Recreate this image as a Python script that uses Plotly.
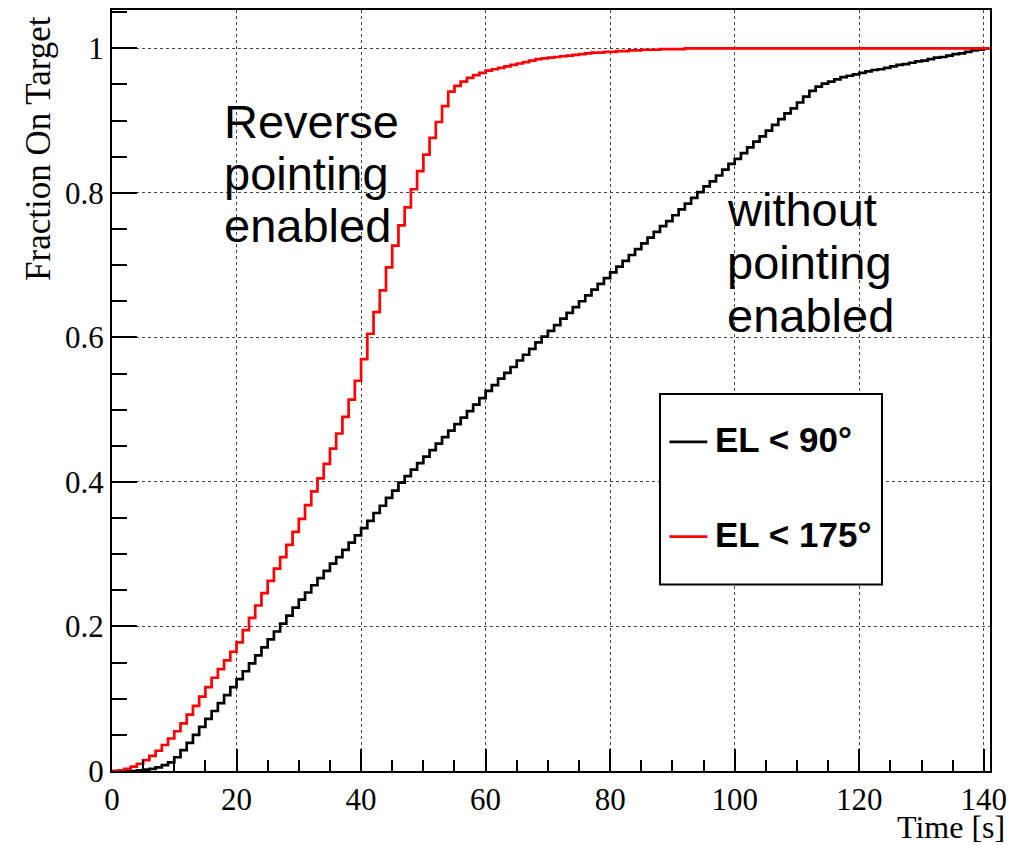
import plotly.graph_objects as go

# ---------------- data ----------------
bin_low_edges_s = list(range(0, 141))   # one-second time bins, 0 ... 140 s
bin_width_s = 1

frac_el90 = [
    0.000, 0.000, 0.000, 0.000, 0.001, 0.002, 0.003, 0.005, 0.008, 0.012,
    0.019, 0.029, 0.039, 0.050, 0.061, 0.072, 0.083, 0.094, 0.105, 0.116,
    0.127, 0.138, 0.149, 0.160, 0.171, 0.182, 0.193, 0.204, 0.215, 0.226,
    0.237, 0.247, 0.257, 0.267, 0.277, 0.287, 0.296, 0.306, 0.316, 0.326,
    0.336, 0.346, 0.357, 0.367, 0.378, 0.388, 0.399, 0.408, 0.417, 0.426,
    0.435, 0.444, 0.453, 0.462, 0.471, 0.480, 0.489, 0.498, 0.507, 0.516,
    0.526, 0.534, 0.543, 0.551, 0.559, 0.568, 0.576, 0.584, 0.593, 0.601,
    0.609, 0.617, 0.626, 0.634, 0.642, 0.650, 0.658, 0.666, 0.674, 0.682,
    0.690, 0.698, 0.706, 0.714, 0.722, 0.730, 0.738, 0.746, 0.754, 0.761,
    0.769, 0.777, 0.785, 0.793, 0.801, 0.809, 0.816, 0.824, 0.832, 0.840,
    0.847, 0.855, 0.863, 0.871, 0.878, 0.886, 0.894, 0.902, 0.910, 0.917,
    0.925, 0.933, 0.941, 0.947, 0.951, 0.954, 0.957, 0.960, 0.962, 0.964,
    0.966, 0.968, 0.970, 0.971, 0.973, 0.975, 0.977, 0.978, 0.980, 0.982,
    0.983, 0.985, 0.987, 0.988, 0.990, 0.992, 0.993, 0.995, 0.997, 0.998,
    1.000,
]

frac_el175 = [
    0.000, 0.001, 0.003, 0.006, 0.010, 0.015, 0.021, 0.028, 0.036, 0.045,
    0.055, 0.066, 0.078, 0.090, 0.103, 0.116, 0.129, 0.141, 0.153, 0.165,
    0.178, 0.195, 0.212, 0.229, 0.246, 0.263, 0.280, 0.296, 0.313, 0.331,
    0.349, 0.368, 0.387, 0.405, 0.425, 0.446, 0.467, 0.490, 0.514, 0.540,
    0.570, 0.605, 0.635, 0.665, 0.697, 0.727, 0.755, 0.780, 0.805, 0.830,
    0.853, 0.876, 0.898, 0.920, 0.940, 0.948, 0.954, 0.959, 0.963, 0.966,
    0.969, 0.971, 0.973, 0.975, 0.977, 0.979, 0.981, 0.983, 0.985, 0.986,
    0.987, 0.988, 0.989, 0.990, 0.991, 0.992, 0.993, 0.994, 0.994, 0.995,
    0.995, 0.996, 0.996, 0.997, 0.997, 0.998, 0.998, 0.998, 0.999, 0.999,
    0.999, 0.999, 1.000, 1.000, 1.000, 1.000, 1.000, 1.000, 1.000, 1.000,
    1.000, 1.000, 1.000, 1.000, 1.000, 1.000, 1.000, 1.000, 1.000, 1.000,
    1.000, 1.000, 1.000, 1.000, 1.000, 1.000, 1.000, 1.000, 1.000, 1.000,
    1.000, 1.000, 1.000, 1.000, 1.000, 1.000, 1.000, 1.000, 1.000, 1.000,
    1.000, 1.000, 1.000, 1.000, 1.000, 1.000, 1.000, 1.000, 1.000, 1.000,
    1.000,
]

series_names = ["EL < 90°", "EL < 175°"]
series_colors = ["#000000", "#ff0000"]

x_tick_vals = [0, 20, 40, 60, 80, 100, 120, 140]
y_tick_vals = [0, 0.2, 0.4, 0.6, 0.8, 1.0]
y_tick_text = ["0", "0.2", "0.4", "0.6", "0.8", "1"]

x_title = "Time [s]"
y_title = "Fraction On Target"
label_left = ["Reverse", "pointing", "enabled"]
label_right = ["without", "pointing", "enabled"]

# ---------------- figure geometry ----------------
W, H = 1015, 845
L, R, T, B = 112, 21, 8, 74
PW, PH = W - L - R, H - T - B
BOTTOM_PX = H - B


def px(xp):
    return (xp - L) / PW


def py(yp):
    return (BOTTOM_PX - yp) / PH


x_edges = bin_low_edges_s + [bin_low_edges_s[-1] + bin_width_s]

fig = go.Figure()
for vals, name, col in zip([frac_el90, frac_el175], series_names, series_colors):
    fig.add_trace(go.Scatter(
        x=x_edges, y=vals + [vals[-1]], mode="lines", name=name,
        line=dict(color=col, width=2.7, shape="hv"), showlegend=False,
        hoverinfo="skip",
    ))

serif = "Liberation Serif"
sans = "Liberation Sans"

axis_common = dict(
    ticks="inside", tickcolor="black", tickwidth=1.5,
    showline=True, linecolor="black", linewidth=2, mirror=True,
    showgrid=True, gridcolor="#444444", griddash="dot", gridwidth=1,
    zeroline=False, tickfont=dict(family=serif, size=31, color="black"),
)

fig.update_xaxes(
    range=[0, 141], tickmode="array", tickvals=x_tick_vals, ticklen=22,
    minor=dict(dtick=5, tick0=0, ticks="inside", ticklen=11, tickcolor="black",
               tickwidth=1.5, showgrid=False),
    **axis_common,
)
fig.update_yaxes(
    range=[0, 1.053], tickmode="array", tickvals=y_tick_vals, ticktext=y_tick_text,
    ticklen=25,
    minor=dict(dtick=0.05, tick0=0, ticks="inside", ticklen=15, tickcolor="black",
               tickwidth=1.5, showgrid=False),
    **axis_common,
)

ann = []
# axis titles
ann.append(dict(text=x_title, xref="paper", yref="paper", x=px(1011), y=py(827),
                xanchor="right", yanchor="middle", showarrow=False,
                font=dict(family=serif, size=32, color="black")))
ann.append(dict(text=y_title, xref="paper", yref="paper", x=px(38), y=py(147),
                xanchor="center", yanchor="middle", textangle=-90, showarrow=False,
                font=dict(family=serif, size=35, color="black")))

# in-plot labels
for i, t in enumerate(label_left):
    ann.append(dict(text=t, xref="paper", yref="paper", x=px(223), y=py(120 + 52 * i),
                    xanchor="left", yanchor="middle", showarrow=False,
                    font=dict(family=sans, size=47, color="black")))
for i, t in enumerate(label_right):
    ann.append(dict(text=t, xref="paper", yref="paper", x=px(728), y=py(208 + 53 * i),
                    xanchor="left", yanchor="middle", showarrow=False,
                    font=dict(family=sans, size=47, color="black")))

# legend box (drawn by hand to match ROOT layout)
shapes = [dict(type="rect", xref="paper", yref="paper",
               x0=px(662.5), x1=px(885.5), y0=py(584), y1=py(393),
               line=dict(color="black", width=2), fillcolor="white", layer="above")]
legend_rows_px = [439, 534]
for name, col, yrow in zip(series_names, series_colors, legend_rows_px):
    shapes.append(dict(type="line", xref="paper", yref="paper",
                       x0=px(672), x1=px(710), y0=py(yrow + 2), y1=py(yrow + 2),
                       line=dict(color=col, width=2.7), layer="above"))
    ann.append(dict(text="<b>" + name + "</b>", xref="paper", yref="paper",
                    x=px(716), y=py(yrow), xanchor="left", yanchor="middle",
                    showarrow=False, font=dict(family=sans, size=35, color="black")))

fig.update_layout(
    width=W, height=H, margin=dict(l=L, r=R, t=T, b=B, pad=0),
    paper_bgcolor="white", plot_bgcolor="white",
    annotations=ann, shapes=shapes, showlegend=False,
)

fig.write_html("out.html")
